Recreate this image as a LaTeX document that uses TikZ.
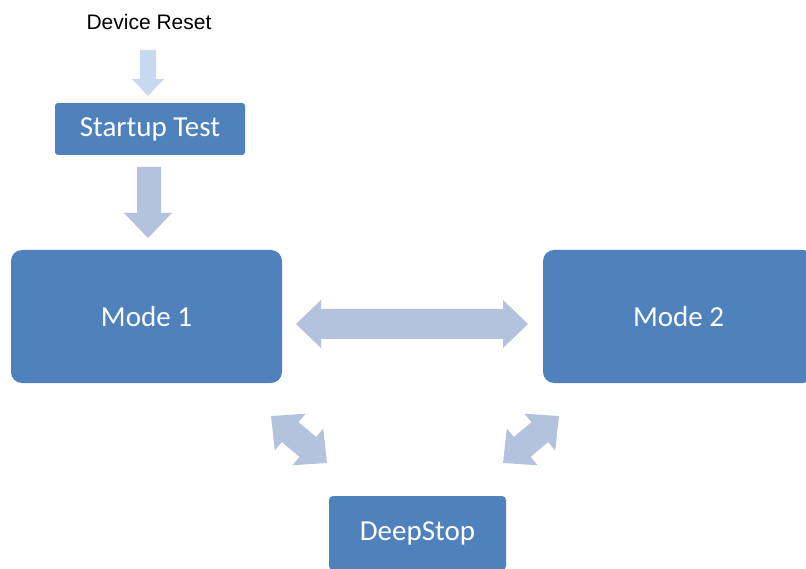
\documentclass[tikz,border=0pt]{standalone}
\usepackage{fontspec}
\setmainfont{Carlito}
\newfontfamily\arialfont{Liberation Sans}
\definecolor{boxblue}{HTML}{4F81BD}
\definecolor{arrowblue}{HTML}{B3C3DE}
\definecolor{lightarrow}{HTML}{C6D9F1}
\tikzset{
  modebox/.style={fill=boxblue, text=white, rounded corners=#1, inner sep=0pt,
    font=\fontsize{29}{34}\selectfont},
  modebox/.default=4pt,
  blockarrow/.style={fill=arrowblue, draw=none},
}
\newcommand{\dblarrow}[5]{% center, angle, length, shaft half, head half
  \begin{scope}[shift={#1}, rotate=#2]
    \fill[blockarrow] (-#3/2,0) -- (-#3/2+25,#5) -- (-#3/2+25,#4) -- (#3/2-25,#4) -- (#3/2-25,#5)
      -- (#3/2,0) -- (#3/2-25,-#5) -- (#3/2-25,-#4) -- (-#3/2+25,-#4) -- (-#3/2+25,-#5) -- cycle;
  \end{scope}}
\begin{document}
\begin{tikzpicture}[x=1pt, y=-1pt]
\useasboundingbox (0,0) rectangle (806,569);
\clip (0,0) rectangle (806,569);
% texts and boxes
\node[font=\arialfont\fontsize{21}{25}\selectfont, inner sep=0pt] (reset) at (149,22) {Device Reset};
\node[modebox=3pt, minimum width=190pt, minimum height=52pt] (startup) at (150,129) {Startup Test};
\node[modebox=11pt, minimum width=271pt, minimum height=133pt] (mode1) at (146.5,316.5) {Mode 1};
\node[modebox=11pt, minimum width=271pt, minimum height=133pt] (mode2) at (678.5,316.5) {Mode 2};
\node[modebox=4pt, minimum width=177pt, minimum height=74pt] (deep) at (417.5,533) {DeepStop};
% small arrow: reset -> startup
\fill[lightarrow] (140,50) -- (156,50) -- (156,79) -- (164,79) -- (148,96) -- (132,79) -- (140,79) -- cycle;
% big arrow: startup -> mode1
\fill[blockarrow] (137,167) -- (161,167) -- (161,213) -- (172,213) -- (148,238) -- (124,213) -- (137,213) -- cycle;
% double arrows
\dblarrow{(412,324)}{0}{232}{15}{24}
\dblarrow{(299,439.5)}{-40}{73}{13}{24}
\dblarrow{(531,439.5)}{40}{73}{13}{24}
\end{tikzpicture}
\end{document}
